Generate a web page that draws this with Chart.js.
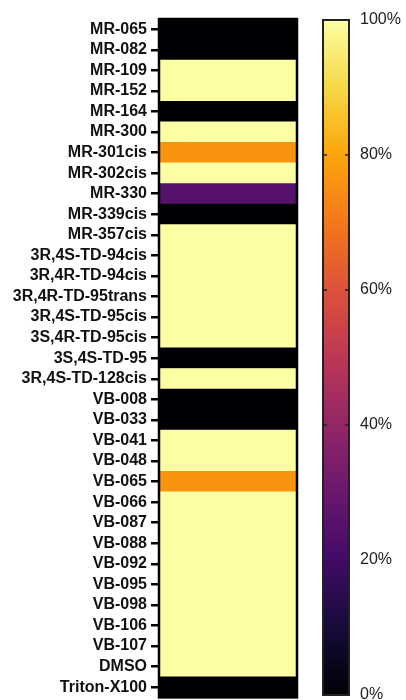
<!DOCTYPE html>
<html>
<head>
<meta charset="utf-8">
<script src="https://cdn.jsdelivr.net/npm/chart.js@4.4.1/dist/chart.umd.min.js"></script>
<style>
  html, body { margin: 0; padding: 0; background: #fff; overflow: hidden; }
  #heat { position: absolute; left: 0; top: 0; }
  #bar { position: absolute; left: 300px; top: 0; }
</style>
</head>
<body>
<canvas id="heat" width="300" height="711"></canvas>
<canvas id="bar" width="106" height="712"></canvas>
<script>
// compounds, top to bottom
const compounds = [
  'MR-065', 'MR-082', 'MR-109', 'MR-152', 'MR-164', 'MR-300', 'MR-301cis',
  'MR-302cis', 'MR-330', 'MR-339cis', 'MR-357cis', '3R,4S-TD-94cis',
  '3R,4R-TD-94cis', '3R,4R-TD-95trans', '3R,4S-TD-95cis', '3S,4R-TD-95cis',
  '3S,4S-TD-95', '3R,4S-TD-128cis', 'VB-008', 'VB-033', 'VB-041', 'VB-048',
  'VB-065', 'VB-066', 'VB-087', 'VB-088', 'VB-092', 'VB-095', 'VB-098',
  'VB-106', 'VB-107', 'DMSO', 'Triton-X100'
];

// percentage per compound
const percent = [
  0, 0, 100, 100, 0, 100, 76,
  100, 25, 0, 100, 100,
  100, 100, 100, 100,
  0, 100, 0, 0, 100, 100,
  76, 100, 100, 100, 100, 100, 100,
  100, 100, 100, 0
];

// colour bar range and ticks
const scaleMin = 0;
const scaleMax = 100;
const scaleStep = 20;

// inferno colour map, stops every 10%
const inferno = [
  [0, 0, 4], [22, 11, 57], [66, 10, 104], [106, 23, 110], [147, 38, 103],
  [188, 55, 84], [221, 81, 58], [243, 120, 25], [252, 165, 10],
  [246, 215, 70], [252, 255, 164]
];

function infernoColor(v) {
  let t = (v - scaleMin) / (scaleMax - scaleMin);
  t = Math.min(1, Math.max(0, t)) * (inferno.length - 1);
  const i = Math.min(inferno.length - 2, Math.floor(t));
  const f = t - i;
  const a = inferno[i], b = inferno[i + 1];
  const c = a.map((x, k) => Math.round(x + (b[k] - x) * f));
  return 'rgb(' + c.join(',') + ')';
}

// black box round a chart area
const frame = {
  id: 'frame',
  afterDatasetsDraw(chart, args, opts) {
    const a = chart.chartArea;
    const ctx = chart.ctx;
    ctx.save();
    ctx.strokeStyle = opts.color;
    ctx.lineWidth = opts.width;
    ctx.strokeRect(a.left, a.top, a.right - a.left, a.bottom - a.top);
    if (opts.innerTicks) {
      const y = chart.scales.y;
      ctx.lineWidth = 1.5;
      for (let v = scaleMin + scaleStep; v < scaleMax; v += scaleStep) {
        const py = y.getPixelForValue(v);
        ctx.beginPath();
        ctx.moveTo(a.left, py); ctx.lineTo(a.left + 4, py);
        ctx.moveTo(a.right - 4, py); ctx.lineTo(a.right, py);
        ctx.stroke();
      }
    }
    ctx.restore();
  }
};

//------------- heat map -------------//

new Chart(document.getElementById('heat'), {
  type: 'bar',
  data: {
    labels: compounds,
    datasets: [{
      data: percent.map(() => [0, 1]),
      backgroundColor: percent.map(infernoColor),
      borderWidth: 0,
      barPercentage: 1,
      categoryPercentage: 1
    }]
  },
  options: {
    indexAxis: 'y',
    responsive: false,
    animation: false,
    layout: { padding: { top: 19, bottom: 4, right: 3 } },
    plugins: {
      legend: { display: false },
      tooltip: { enabled: false },
      frame: { color: '#000', width: 2.5 }
    },
    scales: {
      x: { display: false, min: 0, max: 1 },
      y: {
        afterFit(scale) { scale.width = 159; },
        border: { display: false },
        grid: {
          offset: false,
          drawOnChartArea: false,
          tickLength: 8,
          tickColor: '#000',
          lineWidth: 2.5
        },
        ticks: {
          padding: 4,
          autoSkip: false,
          color: '#111',
          font: { family: 'Liberation Sans, Arial, sans-serif', size: 16, weight: 'bold' }
        }
      }
    }
  },
  plugins: [frame]
});

//------------- colour bar -------------//

new Chart(document.getElementById('bar'), {
  type: 'bar',
  data: {
    labels: [''],
    datasets: [{
      data: [[scaleMin, scaleMax]],
      backgroundColor(ctx) {
        const area = ctx.chart.chartArea;
        if (!area) return '#000';
        const g = ctx.chart.ctx.createLinearGradient(0, area.bottom, 0, area.top);
        inferno.forEach((c, i) => {
          g.addColorStop(i / (inferno.length - 1), 'rgb(' + c.join(',') + ')');
        });
        return g;
      },
      borderWidth: 0,
      barPercentage: 1,
      categoryPercentage: 1
    }]
  },
  options: {
    responsive: false,
    animation: false,
    layout: { padding: { top: 20, bottom: 17, left: 23 } },
    plugins: {
      legend: { display: false },
      tooltip: { enabled: false },
      frame: { color: '#222', width: 2, innerTicks: true }
    },
    scales: {
      x: { display: false },
      y: {
        position: 'right',
        min: scaleMin,
        max: scaleMax,
        afterFit(scale) { scale.width = 57; },
        border: { display: false },
        grid: { display: false },
        ticks: {
          stepSize: scaleStep,
          padding: 3,
          color: '#222',
          font: { family: 'Liberation Sans, Arial, sans-serif', size: 16 },
          callback: v => v + '%'
        }
      }
    }
  },
  plugins: [frame]
});
</script>
</body>
</html>
